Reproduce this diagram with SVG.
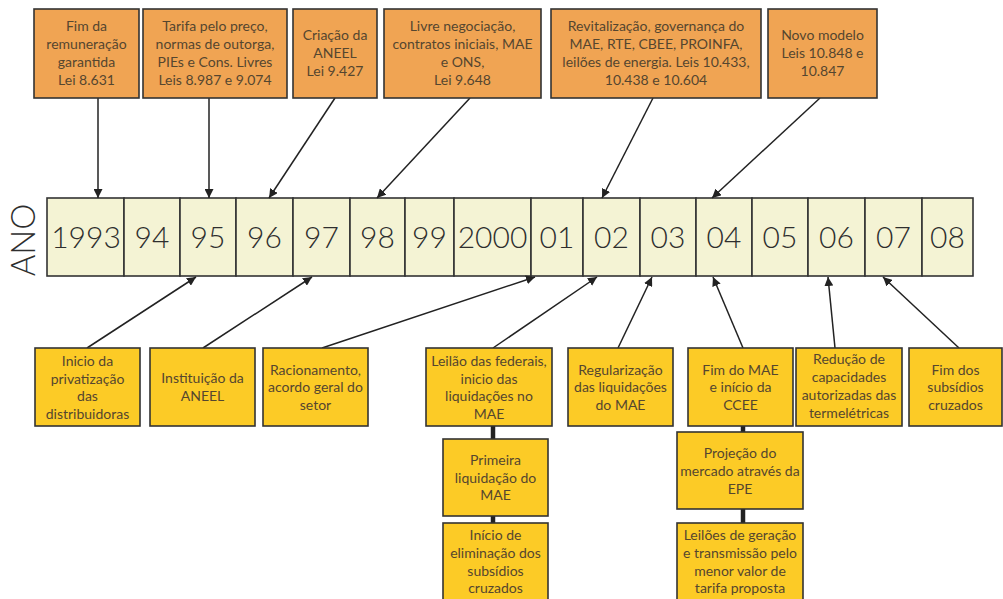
<svg xmlns="http://www.w3.org/2000/svg" width="1003" height="599" viewBox="0 0 1003 599">
<defs>
<style>
.top rect{fill:#F0A453;stroke:#333;stroke-width:1.6}
.bot rect{fill:#FCCB26;stroke:#333;stroke-width:1.6}
.cell rect{fill:#F4F3D4;stroke:#333;stroke-width:1.6}
text{font-family:Lato,"Open Sans","Liberation Sans",sans-serif;fill:#55462f;text-anchor:middle}
.t{font-size:14px}
.yr{font-size:30px;font-weight:300;fill:#2e2e2e}
.con line{stroke:#222;stroke-width:1.5}
.con .arr{marker-end:url(#ah)}
.con .thick{stroke:#222;stroke-width:4.5}
</style>
<marker id="ah" viewBox="0 0 10 10" refX="10" refY="5" markerWidth="9" markerHeight="9" markerUnits="userSpaceOnUse" orient="auto"><path d="M0,0 L10,5 L0,10 z" fill="#222"/></marker>
</defs>

<text class="yr" transform="translate(35,240) rotate(-90)" style="font-size:33px">ANO</text>

<g id="timeline" class="cell">
<rect x="47" y="198" width="77" height="78"/>
<rect x="124" y="198" width="56" height="78"/>
<rect x="180" y="198" width="56" height="78"/>
<rect x="236" y="198" width="57" height="78"/>
<rect x="293" y="198" width="57" height="78"/>
<rect x="350" y="198" width="55" height="78"/>
<rect x="405" y="198" width="49" height="78"/>
<rect x="454" y="198" width="77" height="78"/>
<rect x="531" y="198" width="52" height="78"/>
<rect x="583" y="198" width="57" height="78"/>
<rect x="640" y="198" width="56" height="78"/>
<rect x="696" y="198" width="56" height="78"/>
<rect x="752" y="198" width="56" height="78"/>
<rect x="808" y="198" width="57" height="78"/>
<rect x="865" y="198" width="57" height="78"/>
<rect x="922" y="198" width="51" height="78"/>
<text class="yr" x="86" y="248">1993</text>
<text class="yr" x="152" y="248">94</text>
<text class="yr" x="208" y="248">95</text>
<text class="yr" x="264.5" y="248">96</text>
<text class="yr" x="321.5" y="248">97</text>
<text class="yr" x="377.5" y="248">98</text>
<text class="yr" x="429.5" y="248">99</text>
<text class="yr" x="492.5" y="248">2000</text>
<text class="yr" x="557" y="248">01</text>
<text class="yr" x="611.5" y="248">02</text>
<text class="yr" x="668" y="248">03</text>
<text class="yr" x="724" y="248">04</text>
<text class="yr" x="780" y="248">05</text>
<text class="yr" x="836.5" y="248">06</text>
<text class="yr" x="893.5" y="248">07</text>
<text class="yr" x="947.5" y="248">08</text>
</g>

<g id="connectors" class="con">
<line class="arr" x1="98" y1="98" x2="98" y2="198"/>
<line class="arr" x1="209" y1="98" x2="209" y2="198"/>
<line class="arr" x1="335" y1="98" x2="269" y2="198"/>
<line class="arr" x1="470" y1="98" x2="377" y2="198"/>
<line class="arr" x1="653" y1="98" x2="602" y2="198"/>
<line class="arr" x1="820" y1="98" x2="712" y2="198"/>
<line class="arr" x1="87" y1="348" x2="196" y2="277"/>
<line class="arr" x1="203" y1="348" x2="312" y2="277"/>
<line class="arr" x1="322" y1="348" x2="535" y2="277"/>
<line class="arr" x1="493" y1="348" x2="597" y2="277"/>
<line class="arr" x1="618" y1="348" x2="652" y2="277"/>
<line class="arr" x1="743" y1="348" x2="713" y2="277"/>
<line class="arr" x1="835" y1="348" x2="828" y2="277"/>
<line class="arr" x1="959" y1="348" x2="883" y2="277"/>
<line class="thick" x1="493" y1="426" x2="493" y2="439"/>
<line class="thick" x1="493" y1="516" x2="493" y2="523"/>
<line class="thick" x1="743" y1="426" x2="743" y2="432"/>
<line class="thick" x1="743" y1="509" x2="743" y2="523"/>
</g>

<g id="t1" class="top"><rect x="34" y="9" width="105" height="89"/>
<text class="t" x="86.5" y="31">Fim da</text><text class="t" x="86.5" y="49">remuneração</text><text class="t" x="86.5" y="67">garantida</text><text class="t" x="86.5" y="84.5">Lei 8.631</text></g>
<g id="t2" class="top"><rect x="143" y="9" width="144" height="89"/>
<text class="t" x="215" y="31">Tarifa pelo preço,</text><text class="t" x="215" y="49">normas de outorga,</text><text class="t" x="215" y="67">PIEs e Cons. Livres</text><text class="t" x="215" y="84.5">Leis 8.987 e 9.074</text></g>
<g id="t3" class="top"><rect x="293" y="9" width="84" height="89"/>
<text class="t" x="335" y="40">Criação da</text><text class="t" x="335" y="58">ANEEL</text><text class="t" x="335" y="76">Lei 9.427</text></g>
<g id="t4" class="top"><rect x="384" y="9" width="157" height="89"/>
<text class="t" x="462.5" y="31">Livre negociação,</text><text class="t" x="462.5" y="49">contratos iniciais, MAE</text><text class="t" x="462.5" y="67">e ONS,</text><text class="t" x="462.5" y="84.5">Lei 9.648</text></g>
<g id="t5" class="top"><rect x="551" y="9" width="210" height="89"/>
<text class="t" x="656" y="31">Revitalização, governança do</text><text class="t" x="656" y="49">MAE, RTE, CBEE, PROINFA,</text><text class="t" x="656" y="67">leilões de energia. Leis 10.433,</text><text class="t" x="656" y="84.5">10.438 e 10.604</text></g>
<g id="t6" class="top"><rect x="768" y="9" width="109" height="89"/>
<text class="t" x="822.5" y="40">Novo modelo</text><text class="t" x="822.5" y="58">Leis 10.848 e</text><text class="t" x="822.5" y="76">10.847</text></g>

<g id="b1" class="bot"><rect x="35" y="348" width="105" height="78"/>
<text class="t" x="87.5" y="366">Inicio da</text><text class="t" x="87.5" y="383.5">privatização</text><text class="t" x="87.5" y="401">das</text><text class="t" x="87.5" y="418.5">distribuidoras</text></g>
<g id="b2" class="bot"><rect x="150" y="348" width="105" height="78"/>
<text class="t" x="202.5" y="383">Instituição da</text><text class="t" x="202.5" y="400.5">ANEEL</text></g>
<g id="b3" class="bot"><rect x="263" y="348" width="105" height="78"/>
<text class="t" x="315.5" y="374.5">Racionamento,</text><text class="t" x="315.5" y="392">acordo geral do</text><text class="t" x="315.5" y="409.5">setor</text></g>
<g id="b4" class="bot"><rect x="426" y="348" width="126" height="78"/>
<text class="t" x="489" y="366">Leilão das federais,</text><text class="t" x="489" y="383.5">inicio das</text><text class="t" x="489" y="401">liquidações no</text><text class="t" x="489" y="418.5">MAE</text></g>
<g id="b4a" class="bot"><rect x="443" y="439" width="105" height="77"/>
<text class="t" x="495.5" y="465">Primeira</text><text class="t" x="495.5" y="482.5">liquidação do</text><text class="t" x="495.5" y="500">MAE</text></g>
<g id="b4b" class="bot"><rect x="443" y="523" width="105" height="78"/>
<text class="t" x="495.5" y="540">Início de</text><text class="t" x="495.5" y="558">eliminação dos</text><text class="t" x="495.5" y="575.5">subsídios</text><text class="t" x="495.5" y="593">cruzados</text></g>
<g id="b5" class="bot"><rect x="568" y="348" width="105" height="78"/>
<text class="t" x="620.5" y="374.5">Regularização</text><text class="t" x="620.5" y="392">das liquidações</text><text class="t" x="620.5" y="409.5">do MAE</text></g>
<g id="b6" class="bot"><rect x="688" y="348" width="105" height="78"/>
<text class="t" x="740.5" y="374.5">Fim do MAE</text><text class="t" x="740.5" y="392">e início da</text><text class="t" x="740.5" y="409.5">CCEE</text></g>
<g id="b6a" class="bot"><rect x="677" y="432" width="126" height="77"/>
<text class="t" x="740" y="458">Projeção do</text><text class="t" x="740" y="476">mercado através da</text><text class="t" x="740" y="494">EPE</text></g>
<g id="b6b" class="bot"><rect x="677" y="523" width="126" height="78"/>
<text class="t" x="740" y="540">Leilões de geração</text><text class="t" x="740" y="558">e transmissão pelo</text><text class="t" x="740" y="575.5">menor valor de</text><text class="t" x="740" y="593">tarifa proposta</text></g>
<g id="b7" class="bot"><rect x="796" y="348" width="106" height="78"/>
<text class="t" x="849" y="364">Redução de</text><text class="t" x="849" y="382">capacidades</text><text class="t" x="849" y="400">autorizadas das</text><text class="t" x="849" y="417.5">termelétricas</text></g>
<g id="b8" class="bot"><rect x="909" y="348" width="93" height="78"/>
<text class="t" x="955.5" y="374.5">Fim dos</text><text class="t" x="955.5" y="392">subsídios</text><text class="t" x="955.5" y="409.5">cruzados</text></g>
</svg>
